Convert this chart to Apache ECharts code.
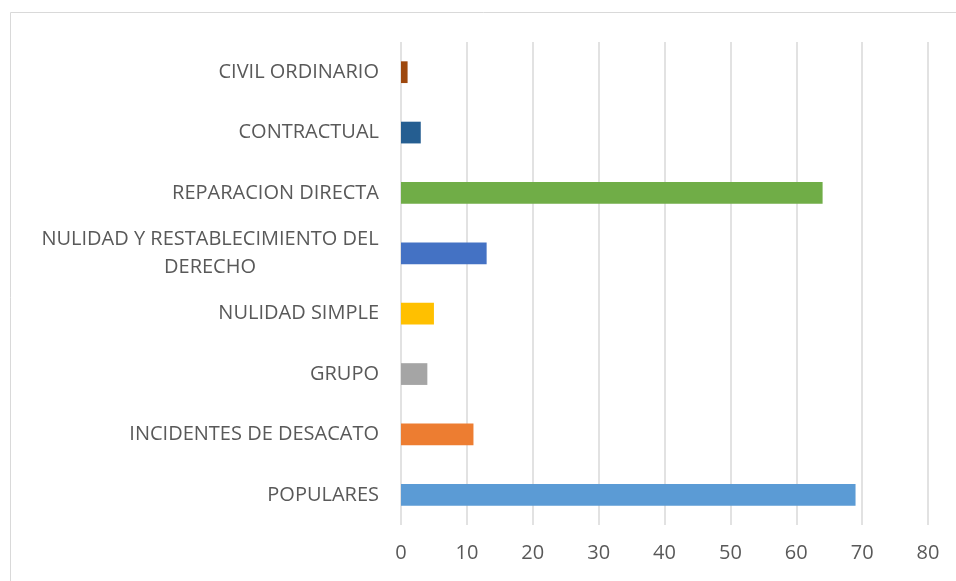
<!DOCTYPE html>
<html><head><meta charset="utf-8">
<script src="https://cdn.jsdelivr.net/npm/echarts@6/dist/echarts.min.js"></script>
<style>html,body{margin:0;padding:0;background:#fff}#c{width:956px;height:581px}</style>
</head><body><div id="c"></div>
<script>
var categories = ['POPULARES','INCIDENTES DE DESACATO','GRUPO','NULIDAD SIMPLE','NULIDAD Y RESTABLECIMIENTO DEL DERECHO','REPARACION DIRECTA','CONTRACTUAL','CIVIL ORDINARIO'];
var values = [69, 11, 4, 5, 13, 64, 3, 1];
var colors = ['#5B9BD5','#ED7D31','#A5A5A5','#FFC000','#4472C4','#70AD47','#255E91','#9E480E'];
var xTicks = [0,10,20,30,40,50,60,70,80];

var font = '"Open Sans", sans-serif';
var fs = 20;
var cv = document.createElement('canvas').getContext('2d');
cv.font = fs + 'px ' + font;
var line1 = 'NULIDAD Y RESTABLECIMIENTO DEL';
var w1 = Math.ceil(cv.measureText(line1).width);

var chart = echarts.init(document.getElementById('c'));
chart.setOption({
  animation: false,
  graphic: [{type:'rect', shape:{x:10.5,y:12.5,width:960,height:600}, style:{fill:'none', stroke:'#d9d9d9', lineWidth:1}}],
  grid: {left: 401, right: 28, top: 42, bottom: 56, containLabel: false},
  xAxis: {
    type: 'value', min: xTicks[0], max: xTicks[xTicks.length-1], interval: 10,
    axisLine: {show:false}, axisTick: {show:false},
    splitLine: {lineStyle: {color:'#d9d9d9', width:1.5}},
    axisLabel: {color:'#595959', fontSize:fs, fontFamily: font, margin: 18}
  },
  yAxis: {
    type: 'category', data: categories,
    axisLine: {show:false}, axisTick: {show:false},
    axisLabel: {
      color:'#595959', fontSize:fs, fontFamily: font, margin: 22,
      formatter: function (v) {
        if (v === 'NULIDAD Y RESTABLECIMIENTO DEL DERECHO') return '{w|' + line1 + '}\n{w|DERECHO}';
        return v;
      },
      rich: {w: {width: w1, align: 'center', color:'#595959', fontSize:fs, fontFamily: font, lineHeight: 28}}
    }
  },
  series: [{
    type: 'bar', barWidth: '36%',
    data: values.map(function (v, i) { return {value: v, itemStyle: {color: colors[i]}}; })
  }]
});
</script></body></html>
